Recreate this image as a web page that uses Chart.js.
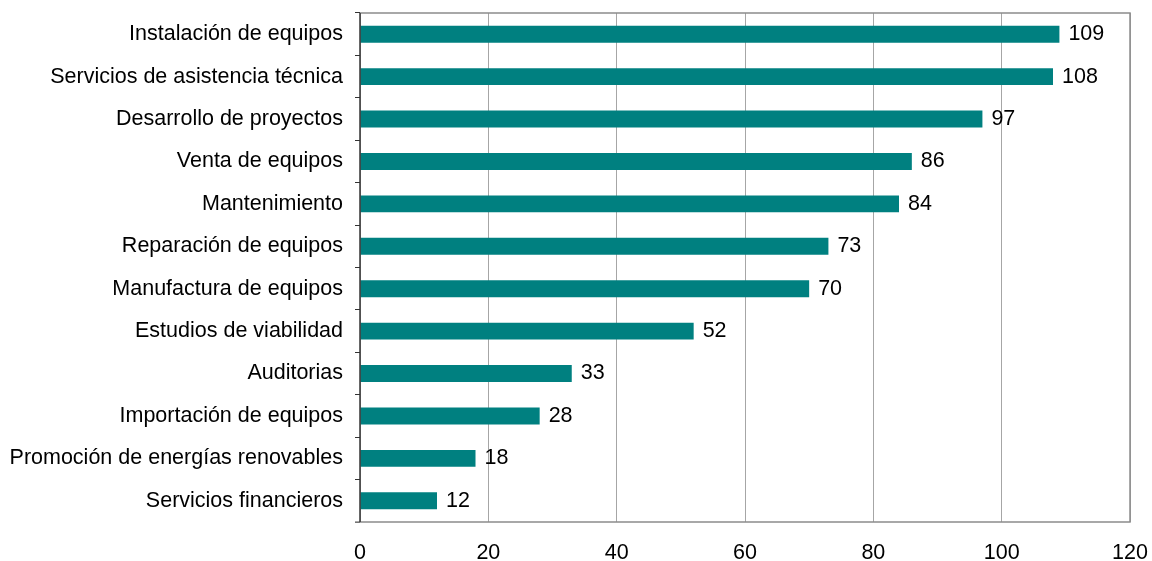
<!DOCTYPE html>
<html>
<head>
<meta charset="utf-8">
<script src="https://cdn.jsdelivr.net/npm/chart.js@4/dist/chart.umd.min.js"></script>
<style>
  html, body { margin: 0; padding: 0; background: #fff; }
  #wrap { width: 1152px; height: 561px; }
</style>
</head>
<body>
<div id="wrap"><canvas id="myChart" width="1152" height="561"></canvas></div>
<script>
var categories = [
    'Instalación de equipos',
    'Servicios de asistencia técnica',
    'Desarrollo de proyectos',
    'Venta de equipos',
    'Mantenimiento',
    'Reparación de equipos',
    'Manufactura de equipos',
    'Estudios de viabilidad',
    'Auditorias',
    'Importación de equipos',
    'Promoción de energías renovables',
    'Servicios financieros'
];
var values = [109, 108, 97, 86, 84, 73, 70, 52, 33, 28, 18, 12];
var xTicks = [0, 20, 40, 60, 80, 100, 120];

var FONT = 'Liberation Sans, Arial, sans-serif';
var FONT_SIZE = 21.5;

// value labels to the right of each bar
var valueLabels = {
    id: 'valueLabels',
    afterDatasetsDraw: function (chart) {
        var c = chart.ctx;
        var meta = chart.getDatasetMeta(0);
        c.save();
        c.font = FONT_SIZE + 'px ' + FONT;
        c.fillStyle = '#000';
        c.textAlign = 'left';
        c.textBaseline = 'middle';
        meta.data.forEach(function (bar, i) {
            c.fillText(String(values[i]), bar.x + 9, bar.y);
        });
        c.restore();
    }
};

// grey frame round the plot, dark line on the category axis
var plotFrame = {
    id: 'plotFrame',
    afterDraw: function (chart) {
        var a = chart.chartArea;
        var c = chart.ctx;
        c.save();
        c.strokeStyle = '#8c8c8c';
        c.lineWidth = 1.5;
        c.beginPath();
        c.moveTo(a.left - 5, a.bottom);
        c.lineTo(a.right, a.bottom);
        c.lineTo(a.right, a.top);
        c.lineTo(a.left, a.top);
        c.stroke();
        c.strokeStyle = '#333';
        c.beginPath();
        c.moveTo(a.left, a.top);
        c.lineTo(a.left, a.bottom);
        c.stroke();
        c.restore();
    }
};

var ctx = document.getElementById('myChart');

new Chart(ctx, {
    type: 'bar',
    data: {
        labels: categories,
        datasets: [{
            data: values,
            backgroundColor: '#008080',
            barPercentage: 0.8,
            categoryPercentage: 0.5
        }]
    },
    options: {
        indexAxis: 'y',
        responsive: false,
        maintainAspectRatio: false,
        animation: false,
        layout: { padding: { top: 13, right: 22, left: 0, bottom: 0 } },
        plugins: {
            legend: { display: false },
            tooltip: { enabled: false }
        },
        scales: {
            x: {
                min: 0,
                max: 120,
                afterBuildTicks: function (scale) {
                    scale.ticks = xTicks.map(function (v) { return { value: v }; });
                },
                afterFit: function (scale) {
                    scale.height = 39;
                    scale.paddingLeft = 0;
                    scale.paddingRight = 0;
                },
                grid: {
                    color: '#a6a6a6',
                    lineWidth: 1,
                    drawTicks: false
                },
                border: { display: false },
                ticks: {
                    color: '#000',
                    padding: 18,
                    font: { family: FONT, size: FONT_SIZE }
                }
            },
            y: {
                afterFit: function (scale) {
                    scale.width = 360;
                    scale.paddingTop = 0;
                    scale.paddingBottom = 0;
                },
                grid: {
                    offset: true,
                    drawOnChartArea: false,
                    tickLength: 5,
                    color: '#333'
                },
                border: { display: false },
                ticks: {
                    color: '#000',
                    padding: 12,
                    autoSkip: false,
                    font: { family: FONT, size: FONT_SIZE }
                }
            }
        }
    },
    plugins: [valueLabels, plotFrame]
});
</script>
</body>
</html>
